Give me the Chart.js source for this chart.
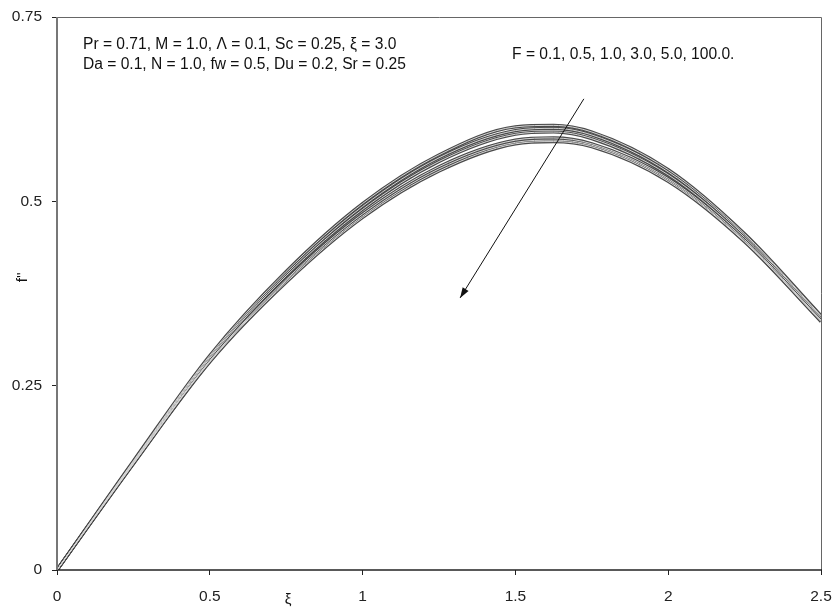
<!DOCTYPE html>
<html>
<head>
<meta charset="utf-8">
<script src="https://cdn.jsdelivr.net/npm/chart.js@4.4.1/dist/chart.umd.min.js"></script>
<style>
  html, body { margin: 0; padding: 0; background: #fff; }
  #wrap { width: 834px; height: 610px; }
</style>
</head>
<body>
<div id="wrap"><canvas id="c" width="834" height="610"></canvas></div>
<script>
// similarity variable ξ
const xi = [0, 0.25, 0.5, 0.75, 1.0, 1.25, 1.5, 1.625, 1.75, 2.0, 2.25, 2.5];

// f'' profiles for each value of F
const fLabels = ['F = 0.1', 'F = 0.5', 'F = 1.0', 'F = 3.0', 'F = 5.0', 'F = 100.0'];
const fF01  = [0, 0.148, 0.291, 0.405, 0.497, 0.563, 0.601, 0.603, 0.594, 0.543, 0.456, 0.345];
const fF05  = [0, 0.147, 0.289, 0.402, 0.493, 0.559, 0.596, 0.599, 0.590, 0.540, 0.454, 0.344];
const fF10  = [0, 0.146, 0.287, 0.399, 0.489, 0.554, 0.591, 0.594, 0.585, 0.536, 0.451, 0.342];
const fF30  = [0, 0.145, 0.284, 0.394, 0.483, 0.547, 0.583, 0.586, 0.578, 0.531, 0.448, 0.339];
const fF50  = [0, 0.144, 0.283, 0.392, 0.480, 0.544, 0.580, 0.583, 0.576, 0.529, 0.446, 0.338];
const fF100 = [0, 0.144, 0.282, 0.390, 0.478, 0.541, 0.578, 0.581, 0.574, 0.527, 0.445, 0.337];
const series = [fF01, fF05, fF10, fF30, fF50, fF100];

// axis ticks
const xTicks = [0, 0.5, 1, 1.5, 2, 2.5];
const xTickLabels = ['0', '0.5', '1', '1.5', '2', '2.5'];
const yTicks = [0, 0.25, 0.5, 0.75];
const yTickLabels = ['0', '0.25', '0.5', '0.75'];

// annotation text
const paramLine1 = 'Pr = 0.71, M = 1.0, \u039B = 0.1, Sc = 0.25, \u03BE = 3.0';
const paramLine2 = 'Da = 0.1, N = 1.0, fw = 0.5, Du = 0.2, Sr = 0.25';
const fNote = 'F = 0.1, 0.5, 1.0, 3.0, 5.0, 100.0.';
const xTitle = '\u03BE';
const yTitle = "f''";

const FONT = '"Liberation Sans", Arial, sans-serif';

// each curve is drawn as a dark stroke with a light core
const datasets = [];
series.forEach((vals, i) => {
  const pts = xi.map((x, k) => ({ x: x, y: vals[k] }));
  datasets.push({
    label: fLabels[i], data: pts, borderColor: '#4a4a4a', borderWidth: 3.2,
    pointRadius: 0, cubicInterpolationMode: 'monotone', order: 1
  });
  datasets.push({
    label: fLabels[i] + ' core', data: pts, borderColor: '#d6d6d6', borderWidth: 1,
    pointRadius: 0, cubicInterpolationMode: 'monotone', order: 0
  });
});

const overlay = {
  id: 'overlay',
  afterDraw(chart) {
    const { ctx, chartArea: a, scales: { x, y } } = chart;
    ctx.save();
    // frame
    ctx.strokeStyle = '#666';
    ctx.lineWidth = 1;
    ctx.beginPath();
    ctx.moveTo(a.left, a.top + 0.5); ctx.lineTo(a.right + 0.5, a.top + 0.5);
    ctx.lineTo(a.right + 0.5, a.bottom);
    ctx.stroke();
    ctx.strokeStyle = '#222';
    ctx.lineWidth = 1.5;
    ctx.beginPath();
    ctx.moveTo(a.left, a.bottom); ctx.lineTo(a.right + 1, a.bottom);
    ctx.stroke();
    ctx.strokeStyle = '#777';
    ctx.lineWidth = 2;
    ctx.beginPath();
    ctx.moveTo(a.left, a.top); ctx.lineTo(a.left, a.bottom);
    ctx.stroke();

    // parameter text
    ctx.fillStyle = '#111';
    ctx.font = '15.6px ' + FONT;
    ctx.textBaseline = 'middle';
    ctx.textAlign = 'left';
    ctx.fillText(paramLine1, x.getPixelForValue(0.085), y.getPixelForValue(0.713));
    ctx.fillText(paramLine2, x.getPixelForValue(0.085), y.getPixelForValue(0.686));
    ctx.fillText(fNote, x.getPixelForValue(1.489), y.getPixelForValue(0.6985));

    // arrow showing increasing F
    const x0 = x.getPixelForValue(1.724), y0 = y.getPixelForValue(0.639);
    const x1 = x.getPixelForValue(1.319), y1 = y.getPixelForValue(0.369);
    ctx.strokeStyle = '#111';
    ctx.lineWidth = 1;
    ctx.beginPath(); ctx.moveTo(x0, y0); ctx.lineTo(x1, y1); ctx.stroke();
    const ang = Math.atan2(y1 - y0, x1 - x0);
    const L = 11, W = 0.32;
    ctx.fillStyle = '#111';
    ctx.beginPath();
    ctx.moveTo(x1, y1);
    ctx.lineTo(x1 - L * Math.cos(ang - W), y1 - L * Math.sin(ang - W));
    ctx.lineTo(x1 - L * Math.cos(ang + W), y1 - L * Math.sin(ang + W));
    ctx.closePath(); ctx.fill();

    // axis titles
    ctx.font = '15px ' + FONT;
    ctx.textAlign = 'center';
    ctx.fillText(xTitle, x.getPixelForValue(0.756), 600);
    ctx.translate(23, y.getPixelForValue(0.397));
    ctx.rotate(-Math.PI / 2);
    ctx.fillText(yTitle, 0, 0);
    ctx.restore();
  }
};

new Chart(document.getElementById('c'), {
  type: 'line',
  data: { datasets },
  options: {
    responsive: false,
    animation: false,
    events: [],
    layout: { padding: { left: 0, right: 13, top: 17, bottom: 0 } },
    plugins: { legend: { display: false }, tooltip: { enabled: false } },
    scales: {
      x: {
        type: 'linear', min: 0, max: 2.5,
        afterBuildTicks: s => { s.ticks = xTicks.map(v => ({ value: v })); },
        ticks: {
          callback: (v, i) => xTickLabels[i],
          color: '#222', font: { family: FONT, size: 15.5 }, padding: 12, maxRotation: 0
        },
        grid: { drawOnChartArea: false, tickLength: 5, color: '#222', tickWidth: 1 },
        border: { display: false },
        afterFit: s => { s.height = 40; s.paddingLeft = 0; s.paddingRight = 0; }
      },
      y: {
        type: 'linear', min: 0, max: 0.75,
        afterBuildTicks: s => { s.ticks = yTicks.map(v => ({ value: v })); },
        ticks: {
          callback: (v, i) => yTickLabels[i],
          color: '#222', font: { family: FONT, size: 15.5 }, padding: 10
        },
        grid: { drawOnChartArea: false, tickLength: 5, color: '#222', tickWidth: 1 },
        border: { display: false },
        afterFit: s => { s.width = 57; s.paddingTop = 0; s.paddingBottom = 0; }
      }
    }
  },
  plugins: [overlay]
});
</script>
</body>
</html>
